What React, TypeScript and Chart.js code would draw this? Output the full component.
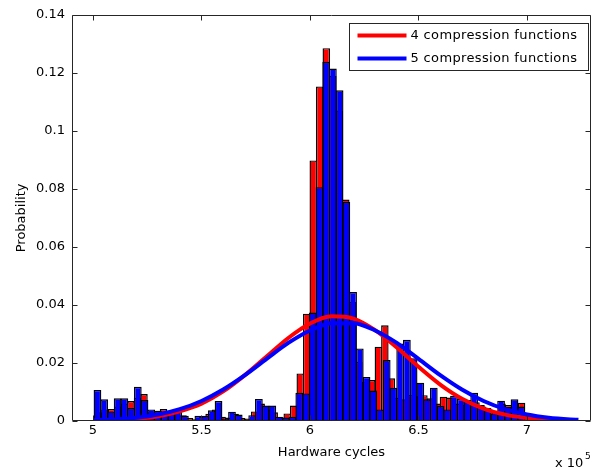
import React, { useEffect, useRef } from 'react';
import { Chart, registerables } from 'chart.js';

Chart.register(...registerables);

// Histogram bins (cycles)
const BLUE_BIN_START = 500500;
const BLUE_BIN_WIDTH = 3100;
const RED_BIN_START = 501000;
const RED_BIN_WIDTH = 3000;

// 5 compression functions (blue) — probability per bin
const blueValues = [
  0.0107, 0.0075, 0.0033, 0.0078, 0.0078, 0.0045, 0.0118, 0.0072, 0.004, 0.0035,
  0.003, 0.0028, 0.0032, 0.0018, 0.0004, 0.0018, 0.0018, 0.0037, 0.0069, 0.0009,
  0.0032, 0.0022, 0.0005, 0.002, 0.0076, 0.0053, 0.0053, 0.0015, 0.0012, 0.0015,
  0.0097, 0.0095, 0.0374, 0.0806, 0.1238, 0.1215, 0.114, 0.0755, 0.0445, 0.025,
  0.0152, 0.0105, 0.004, 0.021, 0.0115, 0.0267, 0.028, 0.0216, 0.0132, 0.0075,
  0.0115, 0.0052, 0.004, 0.0087, 0.0076, 0.0072, 0.0097, 0.0055, 0.0045, 0.0026,
  0.007, 0.0048, 0.0075, 0.005, 0.0015, 0.001, 0.0012, 0.0008, 0.0006, 0.0005,
  0.0004, 0.0003,
];

// 4 compression functions (red) — probability per bin
const redValues = [
  0.003, 0.004, 0.0041, 0.005, 0.006, 0.0069, 0.008, 0.0093, 0.003, 0.0035,
  0.0041, 0.0025, 0.003, 0.002, 0.001, 0.0006, 0.0015, 0.0025, 0.004, 0.0015,
  0.0012, 0.0025, 0.001, 0.0009, 0.0033, 0.006, 0.004, 0.003, 0.0012, 0.0026,
  0.0053, 0.0164, 0.037, 0.0898, 0.1153, 0.1285, 0.119, 0.107, 0.0763, 0.041,
  0.0204, 0.0135, 0.0141, 0.0256, 0.033, 0.0147, 0.008, 0.0075, 0.009, 0.0085,
  0.0089, 0.0078, 0.006, 0.0084, 0.0081, 0.006, 0.0055, 0.0065, 0.0065, 0.005,
  0.004, 0.003, 0.006, 0.0055, 0.005, 0.0063, 0.0015, 0.0008, 0.0005, 0.0003,
  0.0002,
];

// Fitted curves (x in units of 1e5 cycles)
const redCurveX = [5.005, 5.1, 5.2, 5.3, 5.4, 5.5, 5.6, 5.7, 5.8, 5.9, 6.0, 6.1, 6.2, 6.3, 6.4, 6.5, 6.6, 6.7, 6.8, 6.9, 7.0, 7.1, 7.115];
const redCurveY = [0.00012, 0.0003, 0.00074, 0.00165, 0.00335, 0.006, 0.0102, 0.0158, 0.0222, 0.0286, 0.0336, 0.0361, 0.0353, 0.0313, 0.0253, 0.0187, 0.01257, 0.0077, 0.0043, 0.0022, 0.00103, 0.00044, 0.0004];
const blueCurveX = [5.005, 5.1, 5.2, 5.3, 5.4, 5.5, 5.6, 5.7, 5.8, 5.9, 6.0, 6.1, 6.2, 6.3, 6.4, 6.5, 6.6, 6.7, 6.8, 6.9, 7.0, 7.1, 7.2, 7.237];
const blueCurveY = [0.00024, 0.00053, 0.00113, 0.00223, 0.00407, 0.0069, 0.01085, 0.0158, 0.0214, 0.0269, 0.0312, 0.0337, 0.0337, 0.0312, 0.0269, 0.0214, 0.0158, 0.01085, 0.0069, 0.00407, 0.00223, 0.00113, 0.00053, 0.0004];

const xTickValues = [5, 5.5, 6, 6.5, 7];
const yTickValues = [0, 0.02, 0.04, 0.06, 0.08, 0.1, 0.12, 0.14];
const yTickLabels = ['0', '0.02', '0.04', '0.06', '0.08', '0.1', '0.12', '0.14'];

const legendLabels = ['4 compression functions', '5 compression functions'];
const xTitle = 'Hardware cycles';
const yTitle = 'Probability';

const X_MIN = 490323;
const X_MAX = 729493;
const SCALE = 1e5;

const FONT = '"DejaVu Sans", sans-serif';
const AXIS_COLOR = '#262626';
const RED = '#ff0000';
const BLUE = '#0000ff';

const matlabAxes = {
  id: 'matlabAxes',
  afterDraw(chart: any) {
    const { ctx, chartArea: a, scales } = chart;
    ctx.save();
    const L = Math.round(a.left) + 0.5;
    const R = Math.round(a.right) - 0.5;
    const T = Math.round(a.top) + 0.5;
    const B = Math.round(a.bottom) - 0.5;
    ctx.strokeStyle = AXIS_COLOR;
    ctx.lineWidth = 1;
    ctx.beginPath();
    ctx.rect(L, T, R - L, B - T);
    const tl = 5;
    scales.x.ticks.forEach((t: any) => {
      const px = Math.round(scales.x.getPixelForValue(t.value)) + 0.5;
      ctx.moveTo(px, B); ctx.lineTo(px, B - tl);
      ctx.moveTo(px, T); ctx.lineTo(px, T + tl);
    });
    scales.y.ticks.forEach((t: any) => {
      const py = Math.round(scales.y.getPixelForValue(t.value)) + 0.5;
      ctx.moveTo(L, py); ctx.lineTo(L + tl, py);
      ctx.moveTo(R, py); ctx.lineTo(R - tl, py);
    });
    ctx.stroke();

    // legend box
    const bw = 239, bh = 47;
    const bx = Math.round(a.right) - 3 - bw + 0.5;
    const by = Math.round(a.top) + 8 + 0.5;
    ctx.fillStyle = '#fff';
    ctx.fillRect(bx, by, bw, bh);
    ctx.strokeStyle = AXIS_COLOR;
    ctx.strokeRect(bx, by, bw, bh);
    const colors = [RED, BLUE];
    ctx.font = `13px ${FONT}`;
    ctx.textBaseline = 'middle';
    ctx.textAlign = 'left';
    try { (ctx as any).letterSpacing = '0.35px'; } catch (e) { /* ignore */ }
    legendLabels.forEach((lab, i) => {
      const y = by + 12 + i * 23;
      ctx.strokeStyle = colors[i];
      ctx.lineWidth = 4;
      ctx.beginPath();
      ctx.moveTo(bx + 8, y);
      ctx.lineTo(bx + 57, y);
      ctx.stroke();
      ctx.fillStyle = '#000';
      ctx.fillText(lab, bx + 61, y);
    });
    try { (ctx as any).letterSpacing = '0px'; } catch (e) { /* ignore */ }

    // exponent label
    ctx.fillStyle = '#000';
    ctx.textBaseline = 'alphabetic';
    ctx.font = `13px ${FONT}`;
    ctx.fillText('x 10', a.right - 36, 467);
    ctx.font = `9px ${FONT}`;
    ctx.fillText('5', a.right - 6, 459);
    ctx.restore();
  },
};

export default function App() {
  const ref = useRef<HTMLCanvasElement>(null);
  useEffect(() => {
    const canvas = ref.current;
    if (!canvas) return;
    const blueBars = blueValues.map((y, i) => ({ x: BLUE_BIN_START + BLUE_BIN_WIDTH * (i + 0.5), y }));
    const redBars = redValues.map((y, i) => ({ x: RED_BIN_START + RED_BIN_WIDTH * (i + 0.5), y }));
    const redCurve = redCurveX.map((x, i) => ({ x: x * SCALE, y: redCurveY[i] }));
    const blueCurve = blueCurveX.map((x, i) => ({ x: x * SCALE, y: blueCurveY[i] }));

    const barCommon = {
      grouped: false,
      barPercentage: 1.15,
      categoryPercentage: 1,
      borderColor: '#000',
      borderWidth: 1.4,
    };
    const lineCommon = {
      type: 'line' as const,
      xAxisID: 'x',
      pointRadius: 0,
      borderWidth: 4,
      fill: false,
      cubicInterpolationMode: 'monotone' as const,
    };

    const chart = new Chart(canvas, {
      type: 'bar',
      data: {
        datasets: [
          { ...lineCommon, label: legendLabels[1], data: blueCurve, borderColor: BLUE, order: 0 } as any,
          { ...lineCommon, label: legendLabels[0], data: redCurve, borderColor: RED, order: 1 } as any,
          { ...barCommon, type: 'bar', label: 'blue hist', data: blueBars, backgroundColor: BLUE, xAxisID: 'x', order: 2 } as any,
          { ...barCommon, type: 'bar', label: 'red hist', data: redBars, backgroundColor: RED, xAxisID: 'x2', order: 3 } as any,
        ],
      },
      options: {
        responsive: false,
        animation: false,
        events: [],
        layout: { padding: { left: 0, right: 6, top: 14, bottom: 0 } },
        plugins: {
          legend: { display: false },
          tooltip: { enabled: false },
        },
        scales: {
          x: {
            type: 'linear',
            position: 'bottom',
            offset: false,
            min: X_MIN,
            max: X_MAX,
            grid: { display: false, drawTicks: false, offset: false },
            border: { display: false },
            afterBuildTicks: (s: any) => { s.ticks = xTickValues.map((v) => ({ value: v * SCALE })); },
            afterFit: (s: any) => { s.height = 49; },
            ticks: {
              autoSkip: false,
              maxRotation: 0,
              padding: 2,
              color: '#000',
              font: { family: FONT, size: 13 },
              callback: (v: any) => String(Number(v) / SCALE),
            },
            title: {
              display: true,
              text: xTitle,
              color: '#000',
              font: { family: FONT, size: 13 },
              padding: { top: 0, bottom: 10 },
            },
          },
          x2: {
            type: 'linear',
            position: 'bottom',
            display: false,
            offset: false,
            grid: { offset: false },
            min: X_MIN,
            max: X_MAX,
          },
          y: {
            type: 'linear',
            min: 0,
            max: 0.14,
            grid: { display: false, drawTicks: false },
            border: { display: false },
            afterBuildTicks: (s: any) => { s.ticks = yTickValues.map((v) => ({ value: v })); },
            afterFit: (s: any) => { s.width = 72; },
            ticks: {
              autoSkip: false,
              padding: 7,
              color: '#000',
              font: { family: FONT, size: 13 },
              callback: (_v: any, i: number) => yTickLabels[i],
            },
            title: {
              display: true,
              text: yTitle,
              color: '#000',
              font: { family: FONT, size: 13 },
              padding: { top: 14, bottom: 0 },
            },
          },
        },
      } as any,
      plugins: [matlabAxes],
    });
    return () => chart.destroy();
  }, []);

  return (
    <div style={{ position: 'absolute', left: 0, top: 0, width: 597, height: 470, background: '#fff' }}>
      <canvas ref={ref} width={597} height={470} style={{ display: 'block' }} />
    </div>
  );
}
